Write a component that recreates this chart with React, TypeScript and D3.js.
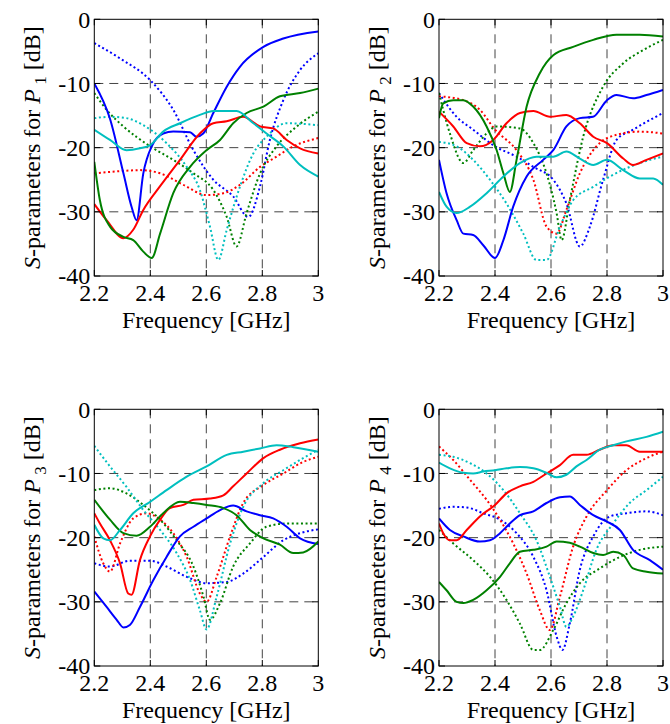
import React from "react";
import * as d3 from "d3";

type Pt = [number, number];

// ---------- Panel P1 ----------
const p1BlueSolid: Pt[] = [[2.2,-10],[2.256,-15.5],[2.304,-24],[2.333,-29.2],[2.351,-31.3],[2.375,-24],[2.405,-19.8],[2.446,-17.8],[2.482,-17.5],[2.542,-17.6],[2.565,-18.3],[2.589,-17.8],[2.625,-14.6],[2.673,-10.5],[2.72,-7.4],[2.804,-4.3],[2.875,-3.0],[3.0,-1.9]];
const p1BlueDot: Pt[] = [[2.2,-3.7],[2.292,-6.1],[2.4,-9.5],[2.482,-14.1],[2.554,-20.4],[2.625,-25],[2.696,-27.6],[2.75,-30.8],[2.792,-26],[2.827,-18.8],[2.875,-12.6],[2.935,-7.9],[3.0,-5.3]];
const p1RedSolid: Pt[] = [[2.2,-28.8],[2.244,-31.3],[2.304,-34.1],[2.339,-32.8],[2.375,-29.7],[2.435,-26],[2.506,-21.9],[2.577,-17.8],[2.625,-16.2],[2.673,-15.9],[2.732,-15.2],[2.792,-16.7],[2.839,-17],[2.887,-18.8],[2.935,-20.1],[3.0,-20.9]];
const p1RedDot: Pt[] = [[2.2,-24],[2.28,-23.7],[2.363,-23.5],[2.435,-24],[2.518,-25.8],[2.601,-27.4],[2.661,-27.1],[2.72,-25.8],[2.792,-23],[2.851,-21.4],[2.911,-19.8],[3.0,-18.5]];
const p1GreenSolid: Pt[] = [[2.2,-22.2],[2.22,-28.2],[2.256,-32.3],[2.304,-33.9],[2.339,-34.4],[2.375,-36.2],[2.405,-37.2],[2.435,-33.4],[2.482,-27.1],[2.542,-23],[2.601,-20.4],[2.649,-18.8],[2.696,-16.2],[2.744,-14.6],[2.804,-13.6],[2.863,-12],[2.935,-11.5],[3.0,-10.8]];
const p1GreenDot: Pt[] = [[2.2,-11.5],[2.244,-14.1],[2.304,-16.7],[2.4,-19.8],[2.482,-21.9],[2.554,-24],[2.625,-26.6],[2.673,-30.8],[2.708,-35.4],[2.744,-30.2],[2.792,-24],[2.851,-19.8],[2.923,-16.7],[3.0,-14.4]];
const p1CyanSolid: Pt[] = [[2.2,-17.2],[2.256,-18.8],[2.315,-20.4],[2.363,-20.1],[2.4,-19.6],[2.446,-17.5],[2.506,-16.2],[2.577,-14.9],[2.625,-14.3],[2.708,-14.3],[2.768,-16.2],[2.815,-17.8],[2.875,-19.8],[2.935,-22.7],[3.0,-24.5]];
const p1CyanDot: Pt[] = [[2.2,-15.4],[2.256,-15.2],[2.315,-15.4],[2.375,-16.5],[2.458,-19.3],[2.53,-23],[2.577,-26.6],[2.613,-32.3],[2.643,-37.5],[2.673,-32.8],[2.72,-26.1],[2.768,-20.9],[2.815,-18.3],[2.887,-16.2],[3.0,-16.5]];

// ---------- Panel P2 ----------
const p2BlueSolid: Pt[] = [[2.2,-21.9],[2.227,-27.1],[2.263,-31.3],[2.287,-33.4],[2.322,-33.6],[2.358,-35.2],[2.4,-37.2],[2.43,-34.4],[2.465,-29.2],[2.513,-24.5],[2.572,-21.9],[2.608,-20.4],[2.655,-16.7],[2.703,-15.4],[2.75,-15.2],[2.8,-12.6],[2.834,-11.8],[2.893,-12.3],[2.941,-11.8],[3.0,-11]];
const p2BlueDot: Pt[] = [[2.2,-11.5],[2.263,-15.2],[2.322,-17.2],[2.4,-19.8],[2.477,-21.4],[2.537,-23],[2.608,-25],[2.655,-28.7],[2.703,-35.4],[2.739,-32.3],[2.786,-25],[2.834,-18.8],[2.893,-17.2],[2.953,-15.7],[3.0,-14.6]];
const p2RedSolid: Pt[] = [[2.2,-14.4],[2.251,-16.7],[2.299,-19.3],[2.346,-19.8],[2.394,-18.8],[2.441,-16.2],[2.489,-14.6],[2.537,-14.3],[2.596,-15.2],[2.655,-14.9],[2.703,-16.2],[2.751,-18.3],[2.8,-19.3],[2.858,-21.7],[2.893,-22.7],[2.941,-21.9],[3.0,-20.9]];
const p2RedDot: Pt[] = [[2.2,-12],[2.287,-12.6],[2.346,-14.1],[2.4,-17.2],[2.477,-20.4],[2.537,-25],[2.584,-32.3],[2.62,-33.4],[2.655,-29.7],[2.703,-24],[2.762,-19.8],[2.834,-18],[2.917,-17.5],[3.0,-17.8]];
const p2GreenSolid: Pt[] = [[2.2,-15.4],[2.215,-13.1],[2.251,-12.6],[2.287,-12.6],[2.322,-13.6],[2.37,-16.7],[2.406,-20.4],[2.43,-24],[2.453,-26.9],[2.477,-21.9],[2.513,-13.6],[2.56,-8.4],[2.608,-5.6],[2.679,-4.3],[2.751,-3.2],[2.834,-2.4],[2.917,-2.4],[3.0,-2.7]];
const p2GreenDot: Pt[] = [[2.2,-11.5],[2.239,-17.8],[2.287,-22.4],[2.322,-20.4],[2.37,-17.8],[2.406,-16.7],[2.489,-17],[2.537,-19.3],[2.584,-24],[2.62,-30.2],[2.638,-34.4],[2.667,-28.2],[2.715,-18.3],[2.786,-10.5],[2.857,-6.9],[2.929,-4.8],[3.0,-3.2]];
const p2CyanSolid: Pt[] = [[2.2,-26.9],[2.227,-29.2],[2.263,-30.2],[2.311,-29.2],[2.37,-27.1],[2.43,-24.5],[2.489,-22.4],[2.548,-21.4],[2.608,-21.4],[2.655,-20.6],[2.703,-21.7],[2.751,-22.7],[2.8,-21.9],[2.858,-23.5],[2.917,-24.8],[2.965,-24.8],[3.0,-25.8]];
const p2CyanDot: Pt[] = [[2.2,-19.1],[2.263,-19.8],[2.322,-21.9],[2.382,-25],[2.441,-28.7],[2.501,-33.4],[2.548,-37.5],[2.584,-37.5],[2.632,-32.3],[2.679,-28.2],[2.751,-26.1],[2.81,-24.5],[2.881,-23],[2.953,-21.9],[3.0,-21.4]];

// ---------- Panel P3 ----------
const p3BlueSolid: Pt[] = [[2.2,-28.4],[2.244,-30.8],[2.28,-32.8],[2.304,-34],[2.327,-33.6],[2.363,-30.8],[2.411,-26.6],[2.458,-23],[2.506,-19.8],[2.554,-18.3],[2.601,-17],[2.649,-15.7],[2.696,-15],[2.744,-15.9],[2.792,-16.5],[2.839,-17],[2.887,-18.3],[2.935,-20.1],[3.0,-21]];
const p3BlueDot: Pt[] = [[2.2,-24],[2.256,-24.5],[2.327,-23.6],[2.4,-23.6],[2.458,-24.5],[2.53,-26.1],[2.601,-27.1],[2.673,-26.9],[2.732,-25.6],[2.804,-23],[2.875,-20.4],[2.935,-19.3],[3.0,-18.7]];
const p3RedSolid: Pt[] = [[2.2,-16.2],[2.22,-17.8],[2.256,-20.4],[2.292,-24],[2.321,-28.7],[2.333,-28.9],[2.363,-23.5],[2.399,-19.8],[2.435,-17.2],[2.47,-15.4],[2.518,-14.9],[2.554,-14.1],[2.613,-13.9],[2.661,-13.4],[2.696,-12],[2.744,-10],[2.804,-7.6],[2.863,-6.3],[2.935,-5.3],[3.0,-4.7]];
const p3RedDot: Pt[] = [[2.2,-19.8],[2.232,-24],[2.256,-25.3],[2.292,-20.9],[2.339,-17],[2.387,-16.2],[2.435,-17.2],[2.482,-19.3],[2.53,-23],[2.577,-28.7],[2.601,-30],[2.637,-26.1],[2.685,-19.8],[2.732,-14.6],[2.804,-11.8],[2.875,-10],[2.946,-8.2],[3.0,-7.4]];
const p3GreenSolid: Pt[] = [[2.2,-14.1],[2.256,-17.2],[2.304,-19.3],[2.351,-19.7],[2.399,-18.3],[2.446,-16.2],[2.506,-14.4],[2.554,-14.6],[2.601,-14.9],[2.661,-15.4],[2.708,-16.5],[2.756,-18.8],[2.804,-20.1],[2.863,-21.1],[2.911,-22.4],[2.946,-22.3],[3.0,-20.6]];
const p3GreenDot: Pt[] = [[2.2,-12.6],[2.256,-12.3],[2.315,-13.1],[2.375,-14.9],[2.435,-17.2],[2.494,-20.4],[2.554,-24.5],[2.59,-29.2],[2.613,-32.8],[2.649,-30.2],[2.696,-24.5],[2.756,-20.9],[2.815,-18.3],[2.887,-17.8],[3.0,-17.8]];
const p3CyanSolid: Pt[] = [[2.2,-18],[2.232,-20.1],[2.256,-20.4],[2.292,-18.8],[2.339,-16.2],[2.4,-14.4],[2.458,-12.6],[2.53,-10.5],[2.601,-8.9],[2.673,-7.1],[2.732,-6.6],[2.792,-6.1],[2.851,-5.6],[2.911,-5.9],[3.0,-6.6]];
const p3CyanDot: Pt[] = [[2.2,-5.7],[2.256,-8.9],[2.315,-12.1],[2.375,-15.7],[2.435,-18.8],[2.494,-22.4],[2.542,-26.6],[2.577,-31.3],[2.601,-34.3],[2.637,-29.2],[2.685,-20.9],[2.732,-15.2],[2.804,-11.5],[2.875,-9.5],[2.946,-7.6],[3.0,-6.3]];

// ---------- Panel P4 ----------
const p4BlueSolid: Pt[] = [[2.2,-17],[2.239,-18.8],[2.287,-19.8],[2.346,-20.6],[2.382,-20.4],[2.418,-19.3],[2.453,-17.8],[2.489,-16.5],[2.537,-15.9],[2.584,-14.6],[2.632,-13.7],[2.667,-13.6],[2.703,-14.9],[2.751,-16.5],[2.8,-17.5],[2.846,-18.8],[2.893,-21.9],[2.953,-23.5],[3.0,-25]];
const p4BlueDot: Pt[] = [[2.2,-15.5],[2.251,-15.2],[2.299,-15.3],[2.358,-16.2],[2.418,-17.2],[2.477,-19.3],[2.537,-23],[2.584,-28.2],[2.62,-35.4],[2.641,-37.5],[2.667,-33.4],[2.703,-25],[2.751,-19.8],[2.81,-16.7],[2.869,-16.2],[2.941,-15.9],[3.0,-16.5]];
const p4RedSolid: Pt[] = [[2.2,-17.8],[2.215,-19.3],[2.239,-20.4],[2.263,-20.4],[2.299,-18.8],[2.346,-16.7],[2.4,-14.9],[2.441,-13.1],[2.489,-12],[2.537,-11.3],[2.584,-10],[2.632,-8.7],[2.679,-7.1],[2.727,-7.1],[2.774,-6.3],[2.822,-5.6],[2.869,-5.6],[2.917,-6.6],[3.0,-6.6]];
const p4RedDot: Pt[] = [[2.2,-5.8],[2.251,-7.9],[2.311,-11],[2.37,-14.1],[2.418,-17.2],[2.465,-20.9],[2.513,-25.6],[2.56,-31.3],[2.596,-34.4],[2.632,-29.2],[2.679,-21.4],[2.727,-16.7],[2.8,-12.6],[2.869,-9.5],[2.941,-7.6],[3.0,-6.6]];
const p4GreenSolid: Pt[] = [[2.2,-26.9],[2.227,-28.2],[2.263,-30],[2.287,-30.2],[2.322,-29.7],[2.37,-28.2],[2.418,-26.1],[2.453,-24],[2.489,-22.2],[2.537,-21.9],[2.584,-21.4],[2.62,-20.6],[2.667,-20.8],[2.703,-21.4],[2.751,-22.4],[2.786,-22.7],[2.822,-22.2],[2.858,-22.7],[2.893,-24.8],[2.941,-25.3],[3.0,-25.6]];
const p4GreenDot: Pt[] = [[2.2,-18.8],[2.251,-20.9],[2.322,-23.5],[2.382,-26.1],[2.441,-29.7],[2.489,-33.4],[2.537,-37.5],[2.56,-37.5],[2.608,-34.4],[2.655,-30.2],[2.703,-27.1],[2.774,-24.8],[2.846,-23],[2.917,-21.9],[3.0,-21.4]];
const p4CyanSolid: Pt[] = [[2.2,-8.3],[2.239,-9.2],[2.287,-9.9],[2.322,-10],[2.358,-9.7],[2.4,-9.5],[2.441,-9.2],[2.489,-9],[2.537,-9.2],[2.584,-9.9],[2.62,-10.6],[2.655,-10.2],[2.691,-8.9],[2.727,-7.9],[2.774,-6.3],[2.822,-5.6],[2.869,-5],[2.941,-4.3],[3.0,-3.5]];
const p4CyanDot: Pt[] = [[2.2,-7.1],[2.251,-7.4],[2.311,-8.4],[2.37,-10],[2.43,-12.6],[2.489,-16.2],[2.548,-20.4],[2.596,-26.1],[2.632,-30.8],[2.655,-33.9],[2.679,-32.3],[2.715,-28.2],[2.762,-21.9],[2.822,-17.8],[2.881,-14.6],[2.941,-12.6],[3.0,-10.5]];

const xTicks = [2.2, 2.4, 2.6, 2.8, 3.0];
const xTickLabels = ["2.2", "2.4", "2.6", "2.8", "3"];
const yTicks = [0, -10, -20, -30, -40];
const yTickLabels = ["0", "-10", "-20", "-30", "-40"];
const portNames = ["1", "2", "3", "4"];
const colors = { blue: "#0000ff", green: "#008000", red: "#ff0000", cyan: "#00bfbf" };

const panelsData = [
  [p1BlueSolid, p1BlueDot, p1RedSolid, p1RedDot, p1GreenSolid, p1GreenDot, p1CyanSolid, p1CyanDot],
  [p2BlueSolid, p2BlueDot, p2RedSolid, p2RedDot, p2GreenSolid, p2GreenDot, p2CyanSolid, p2CyanDot],
  [p3BlueSolid, p3BlueDot, p3RedSolid, p3RedDot, p3GreenSolid, p3GreenDot, p3CyanSolid, p3CyanDot],
  [p4BlueSolid, p4BlueDot, p4RedSolid, p4RedDot, p4GreenSolid, p4GreenDot, p4CyanSolid, p4CyanDot],
];
const seriesColors = [colors.blue, colors.blue, colors.red, colors.red, colors.green, colors.green, colors.cyan, colors.cyan];
const seriesDotted = [false, true, false, true, false, true, false, true];

const offsets: [number, number][] = [[0, 0], [344.7, 0], [0, 390], [344.7, 390]];
const PL = 94.3, PT = 19.3, PW = 224, PH = 256.7;
const txt: React.CSSProperties = { fontFamily: "Liberation Serif", fontSize: "24px" };

function Panel({ idx }: { idx: number }) {
  const [ox, oy] = offsets[idx];
  const x = d3.scaleLinear().domain([2.2, 3.0]).range([PL, PL + PW]);
  const y = d3.scaleLinear().domain([-40, 0]).range([PT + PH, PT]);
  const line = d3.line<Pt>().x(d => x(d[0])).y(d => y(d[1])).curve(d3.curveMonotoneX);
  const data = panelsData[idx];
  const order = [1, 3, 5, 7, 0, 2, 4, 6];
  return (
    <g transform={`translate(${ox},${oy})`}>
      <defs>
        <clipPath id={`clip${idx}`}>
          <rect x={PL} y={PT} width={PW} height={PH} />
        </clipPath>
      </defs>
      <rect x={PL} y={PT} width={PW} height={PH} fill="#fff" />
      {xTicks.slice(1, -1).map(t => (
        <line key={"gx" + t} x1={x(t)} x2={x(t)} y1={PT} y2={PT + PH} stroke="#444" strokeWidth={1} strokeDasharray="9,6" />
      ))}
      {yTicks.slice(1, -1).map(t => (
        <line key={"gy" + t} x1={PL} x2={PL + PW} y1={y(t)} y2={y(t)} stroke="#444" strokeWidth={1} strokeDasharray="9,6" />
      ))}
      <g clipPath={`url(#clip${idx})`}>
        {order.map(i => (
          <path key={i} d={line(data[i]) || ""} fill="none" stroke={seriesColors[i]} strokeWidth={2}
            strokeDasharray={seriesDotted[i] ? "2,2.6" : undefined} strokeLinejoin="round" />
        ))}
      </g>
      {xTicks.map(t => (
        <g key={"tx" + t}>
          <line x1={x(t)} x2={x(t)} y1={PT + PH} y2={PT + PH - 6} stroke="#000" />
          <line x1={x(t)} x2={x(t)} y1={PT} y2={PT + 6} stroke="#000" />
        </g>
      ))}
      {yTicks.map(t => (
        <g key={"ty" + t}>
          <line x1={PL} x2={PL + 6} y1={y(t)} y2={y(t)} stroke="#000" />
          <line x1={PL + PW} x2={PL + PW - 6} y1={y(t)} y2={y(t)} stroke="#000" />
        </g>
      ))}
      <rect x={PL} y={PT} width={PW} height={PH} fill="none" stroke="#000" strokeWidth={1} />
      {xTicks.map((t, i) => (
        <text key={"lx" + t} x={x(t)} y={PT + PH + 25} textAnchor="middle" style={txt}>{xTickLabels[i]}</text>
      ))}
      {yTicks.map((t, i) => (
        <text key={"ly" + t} x={PL - 4} y={y(t)} dy="0.35em" textAnchor="end" style={txt}>{yTickLabels[i]}</text>
      ))}
      <text x={PL + PW / 2} y={PT + PH + 52} textAnchor="middle" style={txt}>Frequency [GHz]</text>
      <text transform={`translate(40,${PT + PH / 2}) rotate(-90)`} textAnchor="middle" style={txt}>
        <tspan fontStyle="italic">S</tspan>
        <tspan>-parameters for </tspan>
        <tspan fontStyle="italic">P</tspan>
        <tspan dy={6} style={{ fontSize: "17px" }}>{" " + portNames[idx]}</tspan>
        <tspan dy={-6}>{"  [dB]"}</tspan>
      </text>
    </g>
  );
}

export default function App() {
  return (
    <svg width={670} height={724} style={{ position: "absolute", left: 0, top: 0, background: "#fff" }}>
      <rect width={670} height={724} fill="#fff" />
      {[0, 1, 2, 3].map(i => <Panel key={i} idx={i} />)}
    </svg>
  );
}
